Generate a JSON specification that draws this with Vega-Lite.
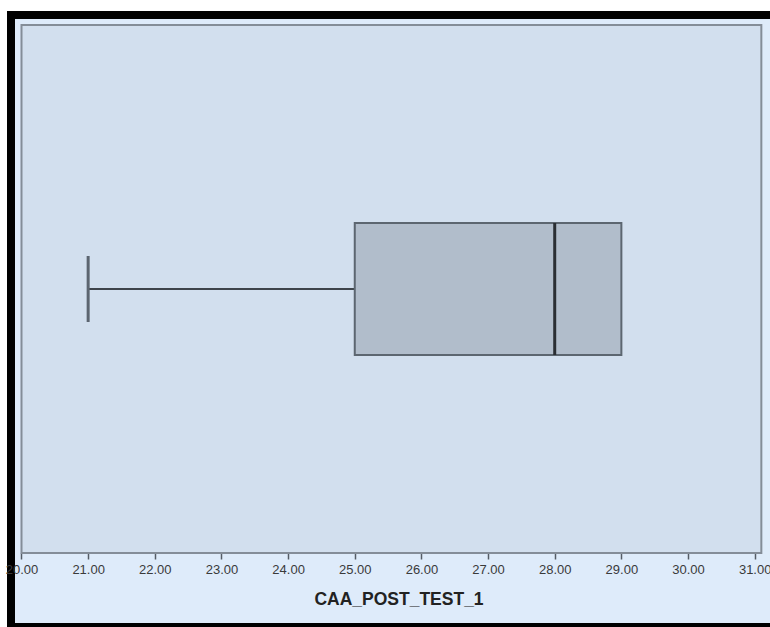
{
  "$schema": "https://vega.github.io/schema/vega-lite/v6.json",
  "autosize": {"type": "none"},
  "padding": {"left": 11, "top": 15, "right": 0, "bottom": 0},
  "width": 775,
  "height": 612,
  "background": "#ffffff",
  "config": {
    "view": {"fill": "#deebfa", "stroke": "#000000", "strokeWidth": 8},
    "font": "Liberation Sans"
  },
  "data": {"values": [{"variable": "CAA_POST_TEST_1", "min": 21, "q1": 25, "median": 28, "q3": 29, "max": 29}]},
  "layer": [
    {
      "mark": {"type": "rect", "fill": "#d2dfee", "stroke": "#848d98", "strokeWidth": 2},
      "encoding": {
        "x": {"datum": 20, "type": "quantitative",
          "scale": {"domain": [19.8425, 31.47], "nice": false, "zero": false},
          "axis": {
            "values": [20, 21, 22, 23, 24, 25, 26, 27, 28, 29, 30, 31],
            "format": ".2f",
            "offset": -74,
            "domain": false,
            "grid": false,
            "ticks": true,
            "tickSize": 6,
            "tickColor": "#555c66",
            "tickWidth": 1.5,
            "labelPadding": 4,
            "labelFontSize": 13,
            "labelColor": "#3a3a3a",
            "title": "CAA_POST_TEST_1",
            "titleFontSize": 17.5,
            "titleFontWeight": "bold",
            "titleColor": "#222222",
            "titlePadding": 14
          }
        },
        "x2": {"datum": 31.1},
        "y": {"datum": 0, "type": "quantitative",
          "scale": {"domain": [-0.1402, 1.0189], "nice": false, "zero": false},
          "axis": null},
        "y2": {"datum": 1}
      }
    },
    {
      "mark": {"type": "rule", "color": "#3e444b", "strokeWidth": 2},
      "encoding": {
        "x": {"field": "min", "type": "quantitative"},
        "x2": {"field": "q1"},
        "y": {"datum": 0.5, "type": "quantitative"}
      }
    },
    {
      "mark": {"type": "rule", "color": "#5c6570", "strokeWidth": 3},
      "encoding": {
        "x": {"field": "min", "type": "quantitative"},
        "y": {"datum": 0.4375, "type": "quantitative"},
        "y2": {"datum": 0.5625}
      }
    },
    {
      "mark": {"type": "rect", "fill": "#b1bdcb", "stroke": "#5c6670", "strokeWidth": 2},
      "encoding": {
        "x": {"field": "q1", "type": "quantitative"},
        "x2": {"field": "q3"},
        "y": {"datum": 0.375, "type": "quantitative"},
        "y2": {"datum": 0.625}
      }
    },
    {
      "mark": {"type": "rule", "color": "#2a2e33", "strokeWidth": 3},
      "encoding": {
        "x": {"field": "median", "type": "quantitative"},
        "y": {"datum": 0.375, "type": "quantitative"},
        "y2": {"datum": 0.625}
      }
    }
  ]
}
